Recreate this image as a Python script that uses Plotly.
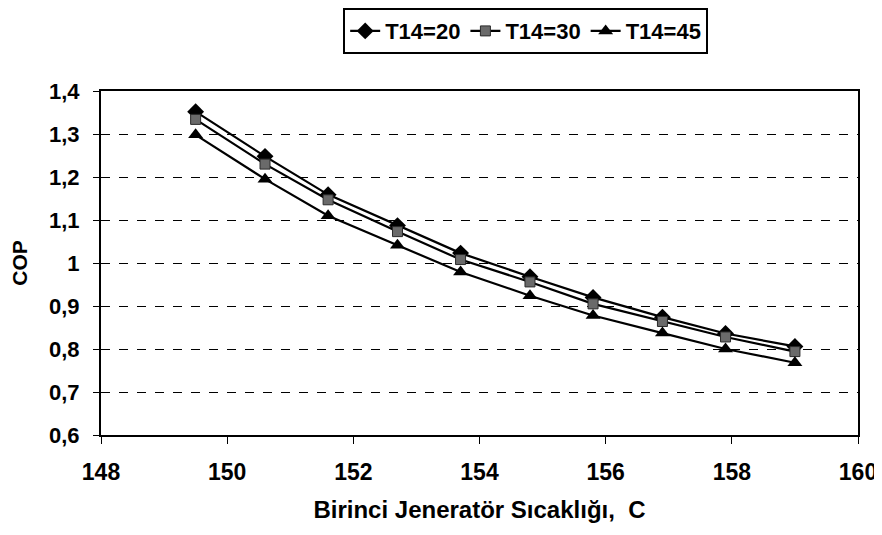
import plotly.graph_objects as go

x_vals = [149.5, 150.6, 151.6, 152.7, 153.7, 154.8, 155.8, 156.9, 157.9, 159.0]
cop_t20 = [1.352, 1.248, 1.159, 1.087, 1.023, 0.968, 0.920, 0.874, 0.836, 0.806]
cop_t30 = [1.334, 1.230, 1.147, 1.073, 1.008, 0.956, 0.905, 0.864, 0.828, 0.794]
cop_t45 = [1.298, 1.195, 1.110, 1.041, 0.979, 0.924, 0.878, 0.837, 0.800, 0.768]
series_names = ["T14=20", "T14=30", "T14=45"]
x_ticks = [148, 150, 152, 154, 156, 158, 160]

font_family = "Liberation Sans, Arial, sans-serif"

fig = go.Figure()
fig.add_trace(go.Scatter(x=x_vals, y=cop_t20, name=series_names[0], mode="lines+markers",
                         line=dict(color="black", width=2.2),
                         marker=dict(symbol="diamond", size=13, color="black")))
fig.add_trace(go.Scatter(x=x_vals, y=cop_t30, name=series_names[1], mode="lines+markers",
                         line=dict(color="black", width=2.2),
                         marker=dict(symbol="square", size=10, color="#6a6a6a",
                                     line=dict(color="#2a2a2a", width=1))))
fig.add_trace(go.Scatter(x=x_vals, y=cop_t45, name=series_names[2], mode="lines+markers",
                         line=dict(color="black", width=2.2),
                         marker=dict(symbol="triangle-up", size=13, color="black")))

# page has an 8px body margin, so the figure is 8px smaller on each axis
fig.update_layout(
    width=874, height=527,
    paper_bgcolor="white", plot_bgcolor="white",
    margin=dict(l=93, r=24, t=83, b=100, autoexpand=False),
    separators=",.",
    font=dict(family=font_family, size=17, color="black"),
    showlegend=True,
    legend=dict(orientation="h", x=0.561, xanchor="center", y=1.241, yanchor="top",
                bordercolor="black", borderwidth=2, bgcolor="white",
                font=dict(family=font_family, size=22, color="black", weight="bold"),
                tracegroupgap=0),
)
fig.update_xaxes(range=[148, 160], tickvals=x_ticks, showgrid=False,
                 showline=True, linecolor="black", linewidth=2, mirror=True,
                 ticks="outside", ticklen=7, tickcolor="black", zeroline=False,
                 ticklabelstandoff=8,
                 tickfont=dict(family=font_family, size=23, weight="bold"),
                 title=dict(text="Birinci Jeneratör Sıcaklığı,  C", standoff=18,
                            font=dict(family=font_family, size=24, weight="bold")))
fig.update_yaxes(range=[0.6, 1.4], dtick=0.1, tick0=0.6, showgrid=True,
                 gridcolor="black", gridwidth=1, griddash="dash",
                 showline=True, linecolor="black", linewidth=2, mirror=True,
                 ticks="outside", ticklen=6, tickcolor="black", zeroline=False,
                 ticklabelstandoff=9,
                 tickfont=dict(family=font_family, size=22, weight="bold"),
                 title=dict(text="COP", standoff=17,
                            font=dict(family=font_family, size=21, weight="bold")))

fig.write_html("out.html")
